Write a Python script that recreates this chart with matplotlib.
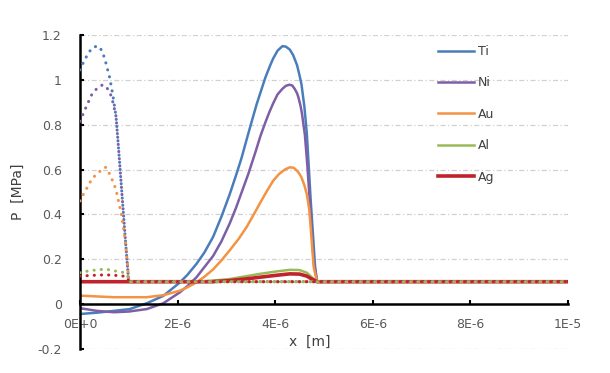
import numpy as np
import matplotlib.pyplot as plt

# solid curves (x in units of 1e-6 m, P in MPa)
ti_x = [0, 0.35, 0.7, 1.02, 1.37, 1.71, 2.05, 2.2, 2.39, 2.55, 2.73, 2.9, 3.07, 3.2, 3.31, 3.45, 3.62, 3.8, 3.9, 3.96,
        4.05, 4.15, 4.22, 4.3, 4.37, 4.45, 4.5, 4.54, 4.6, 4.65, 4.73, 4.82, 4.86, 6.0, 8.0, 10.0]
ti = [-0.044, -0.038, -0.03, -0.022, 0.004, 0.037, 0.097, 0.13, 0.18, 0.23, 0.30, 0.39, 0.49, 0.575, 0.65, 0.76, 0.89, 1.01, 1.065, 1.095,
      1.13, 1.15, 1.148, 1.135, 1.11, 1.065, 1.02, 0.98, 0.88, 0.76, 0.46, 0.165, 0.10, 0.10, 0.10, 0.10]
ni_x = [0, 0.35, 0.7, 1.0, 1.37, 1.71, 2.05, 2.2, 2.39, 2.55, 2.73, 2.9, 3.07, 3.2, 3.3, 3.45, 3.6, 3.7, 3.8, 3.88, 3.96,
        4.05, 4.15, 4.22, 4.29, 4.35, 4.4, 4.45, 4.48, 4.52, 4.55, 4.61, 4.66, 4.71, 4.79, 4.86, 6.0, 8.0, 10.0]
ni = [-0.018, -0.03, -0.036, -0.033, -0.022, 0.004, 0.053, 0.08, 0.12, 0.165, 0.215, 0.28, 0.36, 0.43, 0.49, 0.58, 0.68, 0.75, 0.81, 0.855, 0.895,
      0.935, 0.96, 0.973, 0.978, 0.975, 0.96, 0.94, 0.92, 0.885, 0.85, 0.755, 0.62, 0.46, 0.19, 0.10, 0.10, 0.10, 0.10]
au_x = [0, 0.68, 1.37, 1.71, 2.05, 2.2, 2.39, 2.55, 2.73, 2.9, 3.07, 3.25, 3.42, 3.55, 3.69, 3.82, 3.96, 4.08, 4.2, 4.3,
        4.38, 4.45, 4.5, 4.54, 4.6, 4.65, 4.7, 4.73, 4.79, 4.86, 6.0, 8.0, 10.0]
au = [0.038, 0.031, 0.031, 0.04, 0.06, 0.075, 0.097, 0.122, 0.155, 0.195, 0.24, 0.29, 0.345, 0.395, 0.45, 0.50, 0.55, 0.58, 0.60, 0.61,
      0.608, 0.595, 0.58, 0.565, 0.53, 0.49, 0.42, 0.34, 0.165, 0.10, 0.10, 0.10, 0.10]
al_x = [0, 1.0, 2.0, 2.4, 2.73, 3.07, 3.42, 3.69, 4.0, 4.3, 4.5, 4.65, 4.75, 4.86, 6.0, 8.0, 10.0]
al = [0.10, 0.10, 0.10, 0.10, 0.105, 0.112, 0.125, 0.135, 0.145, 0.153, 0.152, 0.14, 0.12, 0.10, 0.10, 0.10, 0.10]
ag_x = [0, 1.0, 2.0, 2.7, 3.07, 3.42, 3.69, 4.0, 4.3, 4.5, 4.65, 4.75, 4.86, 6.0, 8.0, 10.0]
ag = [0.10, 0.10, 0.10, 0.10, 0.105, 0.113, 0.12, 0.128, 0.135, 0.134, 0.125, 0.112, 0.10, 0.10, 0.10, 0.10]

# dotted curves
xd = [0, 0.07, 0.15, 0.24, 0.32, 0.4, 0.47, 0.53, 0.61, 0.68, 0.74, 0.79, 0.85, 0.92, 0.98, 1.0, 2.0, 4.0, 6.0, 8.0, 10.0]
ti_d = [1.044, 1.077, 1.11, 1.14, 1.148, 1.148, 1.12, 1.077, 1.01, 0.925, 0.837, 0.70, 0.525, 0.32, 0.155, 0.10, 0.10, 0.10, 0.10, 0.10, 0.10]
ni_d = [0.815, 0.85, 0.89, 0.933, 0.955, 0.97, 0.978, 0.97, 0.948, 0.897, 0.837, 0.70, 0.525, 0.32, 0.155, 0.10, 0.10, 0.10, 0.10, 0.10, 0.10]
au_d = [0.46, 0.49, 0.52, 0.556, 0.575, 0.59, 0.605, 0.61, 0.58, 0.545, 0.51, 0.46, 0.40, 0.30, 0.17, 0.10, 0.10, 0.10, 0.10, 0.10, 0.10]
al_d = [0.14, 0.143, 0.147, 0.15, 0.152, 0.154, 0.155, 0.155, 0.153, 0.15, 0.147, 0.145, 0.143, 0.14, 0.125, 0.10, 0.10, 0.10, 0.10, 0.10, 0.10]
ag_d = [0.125, 0.126, 0.127, 0.128, 0.129, 0.13, 0.13, 0.13, 0.13, 0.129, 0.128, 0.127, 0.126, 0.124, 0.115, 0.10, 0.10, 0.10, 0.10, 0.10, 0.10]

names = ['Ti', 'Ni', 'Au', 'Al', 'Ag']
colors = ['#4A7EBB', '#7D5FA6', '#F39343', '#99BA56', '#C0242B']

fig = plt.figure(figsize=(6.1, 3.73), dpi=100)
ax = fig.add_axes([0.131, 0.0643, 0.8, 0.842])

solid = [(ti_x, ti), (ni_x, ni), (au_x, au), (al_x, al), (ag_x, ag)]
for (xv, yv), c, n in zip(solid, colors, names):
    lw = 2.6 if n == 'Ag' else 1.8
    ax.plot(np.array(xv) * 1e-6, yv, color=c, lw=lw, label=n, zorder=2)

# dotted series (not in legend)
xd_m = np.array(xd) * 1e-6
for yv, c in zip([ti_d, ni_d, au_d, al_d, ag_d], colors):
    ax.plot(xd_m, yv, color=c, lw=2.2, linestyle=(0, (0.05, 2.3)),
            dash_capstyle='round', zorder=3)

ax.set_xlim(0, 1e-5)
ax.set_ylim(-0.2, 1.2)
ax.set_yticks(np.arange(-0.2, 1.21, 0.2))
ax.set_yticklabels(['-0.2', '0', '0.2', '0.4', '0.6', '0.8', '1', '1.2'])
ax.set_xticks([0, 2e-6, 4e-6, 6e-6, 8e-6, 1e-5])
ax.set_xticklabels(['0E+0', '2E-6', '4E-6', '6E-6', '8E-6', '1E-5'])

for yy in [-0.2, 0.2, 0.4, 0.6, 0.8, 1.0, 1.2]:
    ax.axhline(yy, color='#d0d0d0', lw=0.9, linestyle=(0, (4, 2, 1, 2)), zorder=0)

ax.spines['top'].set_visible(False)
ax.spines['right'].set_visible(False)
ax.spines['bottom'].set_position(('data', 0))
ax.spines['left'].set_linewidth(1.8)
ax.spines['bottom'].set_linewidth(1.8)
ax.tick_params(axis='both', colors='black', labelcolor='#595959', labelsize=9,
               direction='in', length=3, width=1.5)
ax.tick_params(axis='x', pad=10)
ax.tick_params(axis='y', pad=13)

ax.set_xlabel('x  [m]', color='#404040', fontsize=10)
ax.set_ylabel('P  [MPa]', color='#404040', fontsize=10)
ax.xaxis.label.set_va('center')
ax.yaxis.label.set_va('center')
ax.xaxis.set_label_coords(0.47, 0.022)
ax.yaxis.set_label_coords(-0.127, 0.5)

ax.legend(loc='upper left', bbox_to_anchor=(438 / 610, 1 - 45 / 373),
          bbox_transform=fig.transFigure, frameon=False, fontsize=9,
          labelspacing=1.47, handlelength=2.9, handletextpad=0.3,
          borderpad=0, borderaxespad=0, labelcolor='#404040')

fig.savefig('out.png', dpi=100)
